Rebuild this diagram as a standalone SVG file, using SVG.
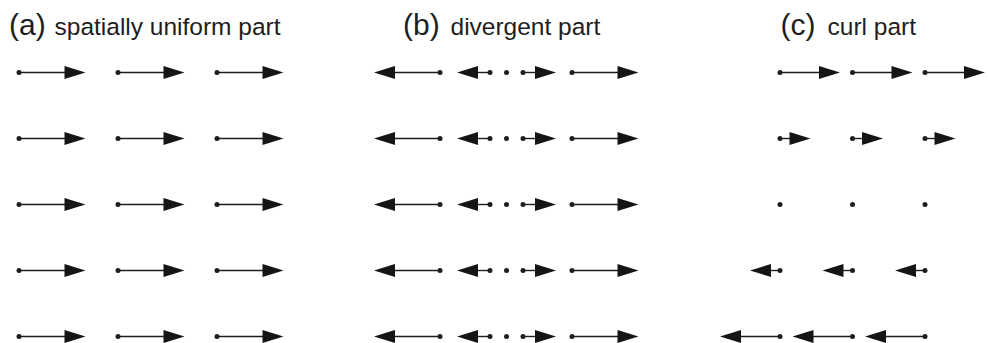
<svg xmlns="http://www.w3.org/2000/svg" xmlns:xlink="http://www.w3.org/1999/xlink" width="988" height="343" viewBox="0 0 988 343">
<style>
.bg{fill:#fff}
.lbl{font-family:"Liberation Sans",Arial,Helvetica,sans-serif;fill:#1e1e1e}
.big{font-size:30px}
.sm{font-size:24.5px}
.shaft{stroke:#1e1e1e;stroke-width:1.4;fill:none}
.dot{fill:#1e1e1e}
.head{fill:#151515}
</style>
<defs>
<path id="hR" class="head" d="M0,0 L-21,-6.4 L-21,6.4 Z"/>
<path id="hL" class="head" d="M0,0 L21,-6.4 L21,6.4 Z"/>
<circle id="pt" class="dot" cx="0" cy="0" r="2.5"/>
</defs>
<rect class="bg" x="0" y="0" width="988" height="343"/>

<g id="labels">
<text class="lbl big" x="9" y="35">(a)</text>
<text class="lbl sm" x="54.5" y="35">spatially uniform part</text>
<text class="lbl big" x="403" y="35">(b)</text>
<text class="lbl sm" x="450.5" y="35">divergent part</text>
<text class="lbl big" x="780.5" y="35">(c)</text>
<text class="lbl sm" x="827.5" y="35">curl part</text>
</g>

<g id="connectors">
<!-- (a) spatially uniform part -->
<g id="panel-a">
<g id="a-r1">
<line class="shaft" x1="19" y1="72.5" x2="67" y2="72.5"/><use xlink:href="#pt" x="19" y="72.5"/><use xlink:href="#hR" x="85.5" y="72.5"/>
<line class="shaft" x1="118" y1="72.5" x2="166" y2="72.5"/><use xlink:href="#pt" x="118" y="72.5"/><use xlink:href="#hR" x="184.5" y="72.5"/>
<line class="shaft" x1="217" y1="72.5" x2="265" y2="72.5"/><use xlink:href="#pt" x="217" y="72.5"/><use xlink:href="#hR" x="283.5" y="72.5"/>
</g>
<g id="a-r2">
<line class="shaft" x1="19" y1="138.5" x2="67" y2="138.5"/><use xlink:href="#pt" x="19" y="138.5"/><use xlink:href="#hR" x="85.5" y="138.5"/>
<line class="shaft" x1="118" y1="138.5" x2="166" y2="138.5"/><use xlink:href="#pt" x="118" y="138.5"/><use xlink:href="#hR" x="184.5" y="138.5"/>
<line class="shaft" x1="217" y1="138.5" x2="265" y2="138.5"/><use xlink:href="#pt" x="217" y="138.5"/><use xlink:href="#hR" x="283.5" y="138.5"/>
</g>
<g id="a-r3">
<line class="shaft" x1="19" y1="204.5" x2="67" y2="204.5"/><use xlink:href="#pt" x="19" y="204.5"/><use xlink:href="#hR" x="85.5" y="204.5"/>
<line class="shaft" x1="118" y1="204.5" x2="166" y2="204.5"/><use xlink:href="#pt" x="118" y="204.5"/><use xlink:href="#hR" x="184.5" y="204.5"/>
<line class="shaft" x1="217" y1="204.5" x2="265" y2="204.5"/><use xlink:href="#pt" x="217" y="204.5"/><use xlink:href="#hR" x="283.5" y="204.5"/>
</g>
<g id="a-r4">
<line class="shaft" x1="19" y1="270.5" x2="67" y2="270.5"/><use xlink:href="#pt" x="19" y="270.5"/><use xlink:href="#hR" x="85.5" y="270.5"/>
<line class="shaft" x1="118" y1="270.5" x2="166" y2="270.5"/><use xlink:href="#pt" x="118" y="270.5"/><use xlink:href="#hR" x="184.5" y="270.5"/>
<line class="shaft" x1="217" y1="270.5" x2="265" y2="270.5"/><use xlink:href="#pt" x="217" y="270.5"/><use xlink:href="#hR" x="283.5" y="270.5"/>
</g>
<g id="a-r5">
<line class="shaft" x1="19" y1="336.5" x2="67" y2="336.5"/><use xlink:href="#pt" x="19" y="336.5"/><use xlink:href="#hR" x="85.5" y="336.5"/>
<line class="shaft" x1="118" y1="336.5" x2="166" y2="336.5"/><use xlink:href="#pt" x="118" y="336.5"/><use xlink:href="#hR" x="184.5" y="336.5"/>
<line class="shaft" x1="217" y1="336.5" x2="265" y2="336.5"/><use xlink:href="#pt" x="217" y="336.5"/><use xlink:href="#hR" x="283.5" y="336.5"/>
</g>
</g>

<!-- (b) divergent part -->
<g id="panel-b">
<g id="b-r1">
<line class="shaft" x1="440" y1="72.5" x2="393" y2="72.5"/><use xlink:href="#pt" x="440" y="72.5"/><use xlink:href="#hL" x="374" y="72.5"/>
<line class="shaft" x1="490" y1="72.5" x2="476" y2="72.5"/><use xlink:href="#pt" x="490" y="72.5"/><use xlink:href="#hL" x="457" y="72.5"/>
<use xlink:href="#pt" x="506.5" y="72.5"/>
<line class="shaft" x1="523" y1="72.5" x2="537" y2="72.5"/><use xlink:href="#pt" x="523" y="72.5"/><use xlink:href="#hR" x="556" y="72.5"/>
<line class="shaft" x1="572" y1="72.5" x2="619" y2="72.5"/><use xlink:href="#pt" x="572" y="72.5"/><use xlink:href="#hR" x="638.5" y="72.5"/>
</g>
<g id="b-r2">
<line class="shaft" x1="440" y1="138.5" x2="393" y2="138.5"/><use xlink:href="#pt" x="440" y="138.5"/><use xlink:href="#hL" x="374" y="138.5"/>
<line class="shaft" x1="490" y1="138.5" x2="476" y2="138.5"/><use xlink:href="#pt" x="490" y="138.5"/><use xlink:href="#hL" x="457" y="138.5"/>
<use xlink:href="#pt" x="506.5" y="138.5"/>
<line class="shaft" x1="523" y1="138.5" x2="537" y2="138.5"/><use xlink:href="#pt" x="523" y="138.5"/><use xlink:href="#hR" x="556" y="138.5"/>
<line class="shaft" x1="572" y1="138.5" x2="619" y2="138.5"/><use xlink:href="#pt" x="572" y="138.5"/><use xlink:href="#hR" x="638.5" y="138.5"/>
</g>
<g id="b-r3">
<line class="shaft" x1="440" y1="204.5" x2="393" y2="204.5"/><use xlink:href="#pt" x="440" y="204.5"/><use xlink:href="#hL" x="374" y="204.5"/>
<line class="shaft" x1="490" y1="204.5" x2="476" y2="204.5"/><use xlink:href="#pt" x="490" y="204.5"/><use xlink:href="#hL" x="457" y="204.5"/>
<use xlink:href="#pt" x="506.5" y="204.5"/>
<line class="shaft" x1="523" y1="204.5" x2="537" y2="204.5"/><use xlink:href="#pt" x="523" y="204.5"/><use xlink:href="#hR" x="556" y="204.5"/>
<line class="shaft" x1="572" y1="204.5" x2="619" y2="204.5"/><use xlink:href="#pt" x="572" y="204.5"/><use xlink:href="#hR" x="638.5" y="204.5"/>
</g>
<g id="b-r4">
<line class="shaft" x1="440" y1="270.5" x2="393" y2="270.5"/><use xlink:href="#pt" x="440" y="270.5"/><use xlink:href="#hL" x="374" y="270.5"/>
<line class="shaft" x1="490" y1="270.5" x2="476" y2="270.5"/><use xlink:href="#pt" x="490" y="270.5"/><use xlink:href="#hL" x="457" y="270.5"/>
<use xlink:href="#pt" x="506.5" y="270.5"/>
<line class="shaft" x1="523" y1="270.5" x2="537" y2="270.5"/><use xlink:href="#pt" x="523" y="270.5"/><use xlink:href="#hR" x="556" y="270.5"/>
<line class="shaft" x1="572" y1="270.5" x2="619" y2="270.5"/><use xlink:href="#pt" x="572" y="270.5"/><use xlink:href="#hR" x="638.5" y="270.5"/>
</g>
<g id="b-r5">
<line class="shaft" x1="440" y1="336.5" x2="393" y2="336.5"/><use xlink:href="#pt" x="440" y="336.5"/><use xlink:href="#hL" x="374" y="336.5"/>
<line class="shaft" x1="490" y1="336.5" x2="476" y2="336.5"/><use xlink:href="#pt" x="490" y="336.5"/><use xlink:href="#hL" x="457" y="336.5"/>
<use xlink:href="#pt" x="506.5" y="336.5"/>
<line class="shaft" x1="523" y1="336.5" x2="537" y2="336.5"/><use xlink:href="#pt" x="523" y="336.5"/><use xlink:href="#hR" x="556" y="336.5"/>
<line class="shaft" x1="572" y1="336.5" x2="619" y2="336.5"/><use xlink:href="#pt" x="572" y="336.5"/><use xlink:href="#hR" x="638.5" y="336.5"/>
</g>
</g>

<!-- (c) curl part -->
<g id="panel-c">
<g id="c-r1">
<line class="shaft" x1="780" y1="72.5" x2="821" y2="72.5"/><use xlink:href="#pt" x="780" y="72.5"/><use xlink:href="#hR" x="840" y="72.5"/>
<line class="shaft" x1="852.5" y1="72.5" x2="893.5" y2="72.5"/><use xlink:href="#pt" x="852.5" y="72.5"/><use xlink:href="#hR" x="912.5" y="72.5"/>
<line class="shaft" x1="925" y1="72.5" x2="966" y2="72.5"/><use xlink:href="#pt" x="925" y="72.5"/><use xlink:href="#hR" x="985" y="72.5"/>
</g>
<g id="c-r2">
<line class="shaft" x1="780" y1="138.5" x2="791" y2="138.5"/><use xlink:href="#pt" x="780" y="138.5"/><use xlink:href="#hR" x="810.5" y="138.5"/>
<line class="shaft" x1="852.5" y1="138.5" x2="863.5" y2="138.5"/><use xlink:href="#pt" x="852.5" y="138.5"/><use xlink:href="#hR" x="883" y="138.5"/>
<line class="shaft" x1="925" y1="138.5" x2="936" y2="138.5"/><use xlink:href="#pt" x="925" y="138.5"/><use xlink:href="#hR" x="955.5" y="138.5"/>
</g>
<g id="c-r3">
<use xlink:href="#pt" x="780" y="204.5"/>
<use xlink:href="#pt" x="852.5" y="204.5"/>
<use xlink:href="#pt" x="925" y="204.5"/>
</g>
<g id="c-r4">
<line class="shaft" x1="780" y1="270.5" x2="770" y2="270.5"/><use xlink:href="#pt" x="780" y="270.5"/><use xlink:href="#hL" x="750" y="270.5"/>
<line class="shaft" x1="852.5" y1="270.5" x2="842.5" y2="270.5"/><use xlink:href="#pt" x="852.5" y="270.5"/><use xlink:href="#hL" x="822.5" y="270.5"/>
<line class="shaft" x1="925" y1="270.5" x2="915" y2="270.5"/><use xlink:href="#pt" x="925" y="270.5"/><use xlink:href="#hL" x="895" y="270.5"/>
</g>
<g id="c-r5">
<line class="shaft" x1="780" y1="336.5" x2="739" y2="336.5"/><use xlink:href="#pt" x="780" y="336.5"/><use xlink:href="#hL" x="720" y="336.5"/>
<line class="shaft" x1="852.5" y1="336.5" x2="811.5" y2="336.5"/><use xlink:href="#pt" x="852.5" y="336.5"/><use xlink:href="#hL" x="792.5" y="336.5"/>
<line class="shaft" x1="925" y1="336.5" x2="884" y2="336.5"/><use xlink:href="#pt" x="925" y="336.5"/><use xlink:href="#hL" x="865" y="336.5"/>
</g>
</g>
</g>
</svg>
